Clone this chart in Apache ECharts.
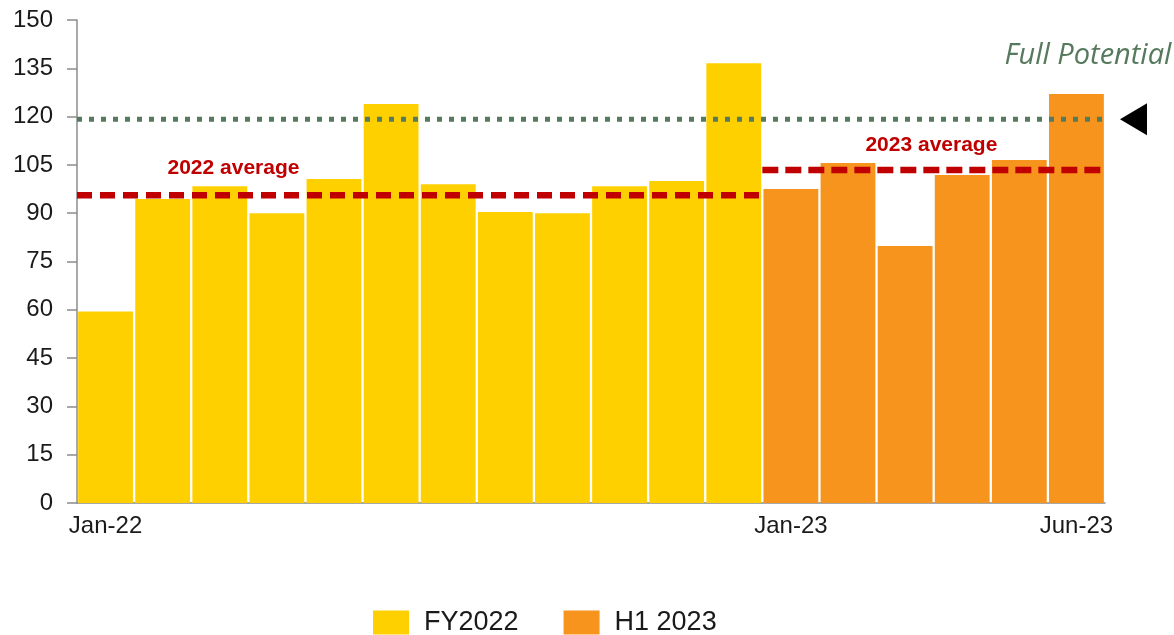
<!DOCTYPE html>
<html>
<head>
<meta charset="utf-8">
<script src="https://cdn.jsdelivr.net/npm/echarts@6/dist/echarts.min.js"></script>
<style>
  html, body { margin: 0; padding: 0; background: #fff; }
  #chart { width: 1174px; height: 635px; }
</style>
</head>
<body>
<div id="chart"></div>
<script>
"use strict";

var months = ["Jan-22", "Feb-22", "Mar-22", "Apr-22", "May-22", "Jun-22",
  "Jul-22", "Aug-22", "Sep-22", "Oct-22", "Nov-22", "Dec-22",
  "Jan-23", "Feb-23", "Mar-23", "Apr-23", "May-23", "Jun-23"];
var shownLabels = ["Jan-22", "Jan-23", "Jun-23"];

var fy2022 = [59.5, 94.4, 98.4, 90, 100.6, 123.9, 99, 90.4, 90, 98.4, 100, 136.6];
var h12023 = [97.5, 105.6, 79.8, 101.9, 106.5, 127];

var avg2022 = 95.6;
var avg2023 = 103.4;
var fullPotential = 119.2;

var yTicks = { min: 0, max: 150, interval: 15 };

var YELLOW = "#FFD000";
var ORANGE = "#F7941E";
var RED = "#C00000";
var GREEN = "#577A5E";
var FONT = "Liberation Sans, Arial, sans-serif";

// pad the two bar series so each fills only its own months
var barsA = fy2022.concat(h12023.map(function() { return "-"; }));
var barsB = fy2022.map(function() { return "-"; }).concat(h12023);
var n2022 = fy2022.length;
var nAll = months.length;

var chart = echarts.init(document.getElementById("chart"), null, { renderer: "canvas" });

var option = {
  animation: false,
  grid: { left: 77, right: 69, top: 20, bottom: 132 },
  legend: {
    left: 368,
    top: 604,
    itemWidth: 36,
    itemHeight: 24,
    itemGap: 45,
    icon: "rect",
    data: ["FY2022", "H1 2023"],
    textStyle: { fontFamily: FONT, fontSize: 27, color: "#1a1a1a", padding: [0, 0, 0, 10] }
  },
  xAxis: [{
    type: "category",
    data: months,
    axisLine: { lineStyle: { color: "#8c8c8c", width: 1.5 } },
    axisTick: { show: false },
    axisLabel: {
      fontFamily: FONT,
      fontSize: 24,
      color: "#1a1a1a",
      margin: 11,
      interval: function(i, v) { return shownLabels.indexOf(v) >= 0; }
    }
  }, {
    type: "value",
    min: 0,
    max: nAll,
    show: false
  }],
  yAxis: {
    type: "value",
    min: yTicks.min,
    max: yTicks.max,
    interval: yTicks.interval,
    splitLine: { show: false },
    axisLine: { show: true, lineStyle: { color: "#8c8c8c", width: 1.5 } },
    axisTick: { show: true, length: 10, lineStyle: { color: "#8c8c8c", width: 1.5 } },
    axisLabel: { fontFamily: FONT, fontSize: 24, color: "#1a1a1a", margin: 24 }
  },
  series: [{
    name: "FY2022",
    type: "bar",
    stack: "all",
    barCategoryGap: "4%",
    itemStyle: { color: YELLOW },
    data: barsA
  }, {
    name: "H1 2023",
    type: "bar",
    stack: "all",
    barCategoryGap: "4%",
    itemStyle: { color: ORANGE },
    data: barsB
  }, {
    name: "avg2022",
    type: "line",
    xAxisIndex: 1,
    symbol: "none",
    z: 5,
    lineStyle: { color: RED, width: 6.5, type: [15, 8], cap: "butt" },
    data: [[0, avg2022], [n2022, avg2022]]
  }, {
    name: "avg2023",
    type: "line",
    xAxisIndex: 1,
    symbol: "none",
    z: 5,
    lineStyle: { color: RED, width: 6.5, type: [16, 7], cap: "butt" },
    data: [[n2022, avg2023], [nAll, avg2023]]
  }, {
    name: "full",
    type: "line",
    xAxisIndex: 1,
    symbol: "none",
    z: 6,
    lineStyle: { color: GREEN, width: 5, type: [5, 7], cap: "butt" },
    data: [[0, fullPotential], [nAll, fullPotential]]
  }]
};

chart.setOption(option);

// annotations placed from the axis scales
var yAvg22 = chart.convertToPixel({ yAxisIndex: 0 }, avg2022);
var yAvg23 = chart.convertToPixel({ yAxisIndex: 0 }, avg2023);
var yFull = chart.convertToPixel({ yAxisIndex: 0 }, fullPotential);
var xRight = chart.convertToPixel({ xAxisIndex: 1 }, nAll);
var x22 = chart.convertToPixel({ xAxisIndex: 1 }, 2.74);
var x23 = chart.convertToPixel({ xAxisIndex: 1 }, 14.96);

chart.setOption({
  graphic: [{
    type: "text",
    x: x22, y: yAvg22 - 27,
    style: { text: "2022 average", fill: RED, font: "bold 21px " + FONT, align: "center", verticalAlign: "middle" }
  }, {
    type: "text",
    x: x23, y: yAvg23 - 25,
    style: { text: "2023 average", fill: RED, font: "bold 21px " + FONT, align: "center", verticalAlign: "middle" }
  }, {
    type: "text",
    x: 1088, y: yFull - 63,
    style: { text: "Full Potential", fill: GREEN, font: "italic 29px 'Open Sans', sans-serif", align: "center", verticalAlign: "middle" }
  }, {
    type: "polygon",
    shape: { points: [[xRight + 15, yFull], [xRight + 42, yFull - 16], [xRight + 42, yFull + 16]] },
    style: { fill: "#000" }
  }]
});
</script>
</body>
</html>
